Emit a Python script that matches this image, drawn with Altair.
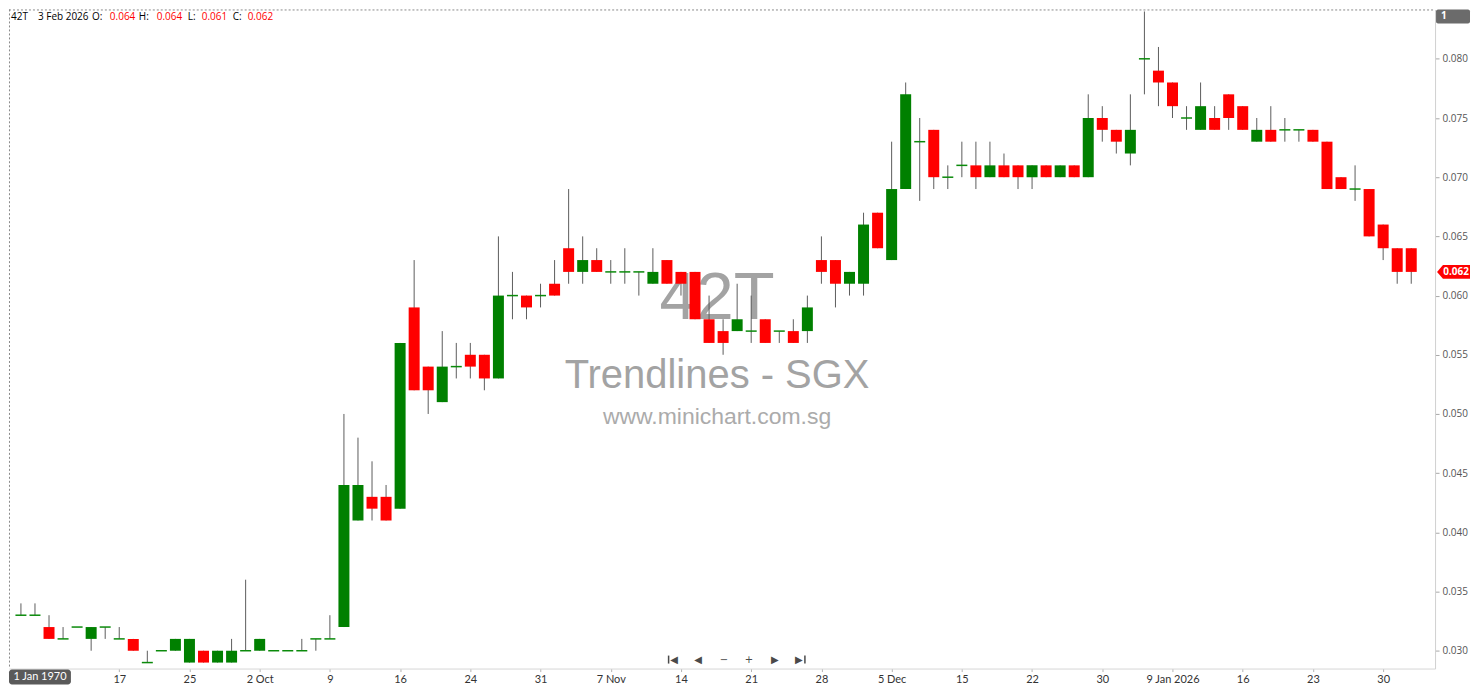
import altair as alt
import pandas as pd

# ---- data (OHLC, one candle per trading day) ----
opens = [0.033, 0.033, 0.032, 0.031, 0.032, 0.031, 0.032, 0.031, 0.031, 0.029,
         0.030, 0.030, 0.029, 0.030, 0.029, 0.029, 0.030, 0.030, 0.030, 0.030,
         0.030, 0.031, 0.031, 0.032, 0.041, 0.043, 0.043, 0.042, 0.059, 0.054,
         0.051, 0.054, 0.055, 0.055, 0.053, 0.060, 0.060, 0.060, 0.061, 0.064,
         0.062, 0.063, 0.062, 0.062, 0.062, 0.061, 0.063, 0.062, 0.062, 0.058,
         0.057, 0.057, 0.057, 0.058, 0.057, 0.057, 0.057, 0.063, 0.063, 0.061,
         0.061, 0.067, 0.063, 0.069, 0.073, 0.074, 0.070, 0.071, 0.071, 0.070,
         0.071, 0.071, 0.070, 0.071, 0.070, 0.071, 0.070, 0.075, 0.074, 0.072,
         0.080, 0.079, 0.078, 0.075, 0.074, 0.075, 0.077, 0.076, 0.073, 0.074,
         0.074, 0.074, 0.074, 0.073, 0.070, 0.069, 0.069, 0.066, 0.064, 0.064]
highs = [0.034, 0.034, 0.033, 0.032, 0.032, 0.032, 0.032, 0.032, 0.031, 0.030,
         0.030, 0.031, 0.031, 0.030, 0.030, 0.031, 0.036, 0.031, 0.030, 0.030,
         0.031, 0.031, 0.033, 0.050, 0.048, 0.046, 0.044, 0.056, 0.063, 0.054,
         0.057, 0.056, 0.056, 0.055, 0.065, 0.062, 0.060, 0.061, 0.063, 0.069,
         0.065, 0.064, 0.063, 0.064, 0.062, 0.064, 0.063, 0.062, 0.062, 0.060,
         0.058, 0.061, 0.060, 0.058, 0.057, 0.058, 0.060, 0.065, 0.063, 0.062,
         0.067, 0.067, 0.073, 0.078, 0.075, 0.074, 0.071, 0.073, 0.073, 0.073,
         0.072, 0.071, 0.071, 0.071, 0.071, 0.071, 0.077, 0.076, 0.074, 0.077,
         0.084, 0.081, 0.078, 0.076, 0.078, 0.076, 0.077, 0.076, 0.075, 0.076,
         0.075, 0.074, 0.074, 0.073, 0.070, 0.071, 0.069, 0.066, 0.064, 0.064]
lows = [0.033, 0.033, 0.031, 0.031, 0.032, 0.030, 0.031, 0.031, 0.030, 0.029,
        0.030, 0.030, 0.029, 0.029, 0.029, 0.029, 0.030, 0.030, 0.030, 0.030,
        0.030, 0.030, 0.031, 0.032, 0.041, 0.041, 0.041, 0.042, 0.052, 0.050,
        0.051, 0.053, 0.053, 0.052, 0.053, 0.058, 0.058, 0.059, 0.060, 0.061,
        0.061, 0.062, 0.061, 0.061, 0.060, 0.061, 0.061, 0.060, 0.058, 0.056,
        0.055, 0.057, 0.056, 0.056, 0.056, 0.056, 0.056, 0.061, 0.059, 0.060,
        0.060, 0.064, 0.063, 0.069, 0.068, 0.069, 0.069, 0.070, 0.069, 0.070,
        0.070, 0.069, 0.069, 0.070, 0.070, 0.070, 0.070, 0.073, 0.072, 0.071,
        0.077, 0.076, 0.075, 0.074, 0.074, 0.074, 0.074, 0.074, 0.073, 0.073,
        0.073, 0.073, 0.073, 0.069, 0.069, 0.068, 0.065, 0.063, 0.061, 0.061]
closes = [0.033, 0.033, 0.031, 0.031, 0.032, 0.032, 0.032, 0.031, 0.030, 0.029,
          0.030, 0.031, 0.031, 0.029, 0.030, 0.030, 0.030, 0.031, 0.030, 0.030,
          0.030, 0.031, 0.031, 0.044, 0.044, 0.042, 0.041, 0.056, 0.052, 0.052,
          0.054, 0.054, 0.054, 0.053, 0.060, 0.060, 0.059, 0.060, 0.060, 0.062,
          0.063, 0.062, 0.062, 0.062, 0.062, 0.062, 0.061, 0.061, 0.058, 0.056,
          0.056, 0.058, 0.057, 0.056, 0.057, 0.056, 0.059, 0.062, 0.061, 0.062,
          0.066, 0.064, 0.069, 0.077, 0.073, 0.070, 0.070, 0.071, 0.070, 0.071,
          0.070, 0.070, 0.071, 0.070, 0.071, 0.070, 0.075, 0.074, 0.073, 0.074,
          0.080, 0.078, 0.076, 0.075, 0.076, 0.074, 0.075, 0.074, 0.074, 0.073,
          0.074, 0.074, 0.073, 0.069, 0.069, 0.069, 0.065, 0.064, 0.062, 0.062]

x_tick_labels = ["17", "25", "2 Oct", "9", "16", "24", "31", "7 Nov", "14", "21",
                 "28", "5 Dec", "15", "22", "30", "9 Jan 2026", "16", "23", "30"]
x_tick_index = [7, 12, 17, 22, 27, 32, 37, 42, 47, 52, 57, 62, 67, 72, 77, 82, 87, 92, 97]
y_tick_values = [0.030, 0.035, 0.040, 0.045, 0.050, 0.055, 0.060, 0.065, 0.070, 0.075, 0.080]

symbol = "42T"
last_date = "3 Feb 2026"

# ---- tables ----
df = pd.DataFrame({"i": list(range(len(closes))), "open": opens, "high": highs,
                   "low": lows, "close": closes})
df["dir"] = ["up" if c > o else ("down" if c < o else "flat") for o, c in zip(opens, closes)]
last = pd.DataFrame({"close": [closes[-1]]})
one = pd.DataFrame({"k": [0]})

W, H = 1428, 660
xs = alt.Scale(domain=[-0.4943, 100.34], nice=False, zero=False)
ys = alt.Scale(domain=[0.028494, 0.084169], nice=False, zero=False)

label_js = "[" + ",".join("'%s'" % s for s in x_tick_labels) + "]"
x_axis = alt.Axis(values=x_tick_index,
                  labelExpr=label_js + "[round((datum.value - 7) / 5)]",
                  grid=False, domainColor="#d6d6d6", tickColor="#b4b4b4", tickSize=3,
                  labelFont="Lato", labelFontSize=11, labelColor="#333333",
                  labelPadding=2, title=None, labelFlush=False, labelOverlap=False)
y_axis = alt.Axis(orient="right", values=y_tick_values, format=".3f", grid=False,
                  domainColor="#d0d0d0", tickColor="#a8a8a8", tickSize=4,
                  labelFont="Open Sans", labelFontSize=10, labelColor="#555555",
                  labelPadding=3, title=None, labelFlush=False, labelOverlap=False)

X = alt.X("i:Q", scale=xs, axis=x_axis)

layers = []

# watermark
for txt, size, yy, col in [(symbol, 67, 310, "#a3a3a3"),
                           ("Trendlines - SGX", 40, 379, "#a3a3a3"),
                           ("www.minichart.com.sg", 23, 415, "#ababab")]:
    layers.append(alt.Chart(one).mark_text(text=txt, font="Liberation Sans", fontSize=size,
                                           color=col, align="center", baseline="alphabetic")
                  .encode(x=alt.value(709), y=alt.value(yy)))

# dashed frame (top and left)
layers.append(alt.Chart(one).mark_rule(color="#8a8a8a", strokeDash=[2, 2], strokeWidth=1)
              .encode(x=alt.value(0), x2=alt.value(W), y=alt.value(0.5)))
layers.append(alt.Chart(one).mark_rule(color="#8a8a8a", strokeDash=[2, 2], strokeWidth=1)
              .encode(x=alt.value(0.5), y=alt.value(0), y2=alt.value(H)))

# wicks
layers.append(alt.Chart(df).transform_filter("datum.high > datum.low")
              .mark_rule(color="#5c5c5c", strokeWidth=1)
              .encode(x=X, y=alt.Y("low:Q", scale=ys, axis=y_axis), y2="high:Q"))
# bodies
layers.append(alt.Chart(df).transform_filter("datum.open != datum.close")
              .mark_bar(size=11)
              .encode(x=X, y=alt.Y("open:Q", scale=ys, axis=y_axis), y2="close:Q",
                      color=alt.Color("dir:N", legend=None,
                                      scale=alt.Scale(domain=["up", "down"],
                                                      range=["#008000", "#ff0000"]))))
# doji (open == close)
layers.append(alt.Chart(df).transform_filter("datum.open == datum.close")
              .mark_point(shape="M-1,0L1,0", size=121, filled=False, color="#0a8a0a",
                          strokeWidth=1.5, opacity=1)
              .encode(x=X, y=alt.Y("close:Q", scale=ys, axis=y_axis)))

# header
hdr = [(symbol, 2, "#000000"), (last_date, 29, "#000000"), ("O:", 83, "#000000"),
       ("%.3f" % opens[-1], 101, "#ff0000"), ("H:", 130, "#000000"),
       ("%.3f" % highs[-1], 148, "#ff0000"), ("L:", 179, "#000000"),
       ("%.3f" % lows[-1], 193, "#ff0000"), ("C:", 224, "#000000"),
       ("%.3f" % closes[-1], 239, "#ff0000")]
for txt, xx, col in hdr:
    layers.append(alt.Chart(one).mark_text(text=txt, font="Open Sans", fontSize=10, color=col,
                                           align="left", baseline="middle")
                  .encode(x=alt.value(xx), y=alt.value(8)))

# last price tag on the right axis
TAG = "M-1,0L-0.64,-0.42L1,-0.42L1,0.42L-0.64,0.42Z"
layers.append(alt.Chart(last).mark_point(shape=TAG, size=1089, filled=True, color="#ff0000",
                                         opacity=1, strokeWidth=0)
              .encode(x=alt.value(1446.5), y=alt.Y("close:Q", scale=ys, axis=y_axis)))
layers.append(alt.Chart(last).mark_text(color="#ffffff", font="Open Sans", fontSize=10,
                                        fontWeight="bold", align="center", baseline="middle")
              .encode(x=alt.value(1449), y=alt.Y("close:Q", scale=ys, axis=y_axis),
                      text=alt.Text("close:Q", format=".3f")))

# "1" box top right
layers.append(alt.Chart(one).mark_rect(color="#6b6b6b", cornerRadius=2)
              .encode(x=alt.value(1429), x2=alt.value(1463), y=alt.value(0), y2=alt.value(14)))
layers.append(alt.Chart(one).mark_text(text="1", color="#ffffff", font="Open Sans", fontSize=10,
                                       fontWeight="bold", align="left", baseline="middle")
              .encode(x=alt.value(1434), y=alt.value(7)))

# crosshair date box bottom left
layers.append(alt.Chart(one).mark_rect(color="#5a5a5a", cornerRadius=3)
              .encode(x=alt.value(0), x2=alt.value(62), y=alt.value(661), y2=alt.value(676)))
layers.append(alt.Chart(one).mark_text(text="1 Jan 1970", color="#ffffff", font="Lato",
                                       fontSize=11, align="center", baseline="middle")
              .encode(x=alt.value(31), y=alt.value(668.5)))

# navigation buttons
NAV = "#4a4a4a"
NAV_Y = 651
for txt, xx in [("\u25C0", 666), ("\u25C0", 690), ("\u2212", 716), ("+", 741),
                ("\u25B6", 767), ("\u25B6", 791)]:
    layers.append(alt.Chart(one).mark_text(text=txt, font="DejaVu Sans", fontSize=10, color=NAV,
                                           align="center", baseline="middle")
                  .encode(x=alt.value(xx), y=alt.value(NAV_Y)))
for xx in [660.5, 797]:
    layers.append(alt.Chart(one).mark_rule(color=NAV, strokeWidth=1.5)
                  .encode(x=alt.value(xx), y=alt.value(NAV_Y - 4), y2=alt.value(NAV_Y + 4)))

chart = (alt.layer(*layers)
         .properties(width=W, height=H, padding={"left": 0, "top": 0, "right": 2, "bottom": 0})
         .configure_view(stroke=None))

chart.save("out.html", embed_options={"renderer": "svg", "actions": False})
